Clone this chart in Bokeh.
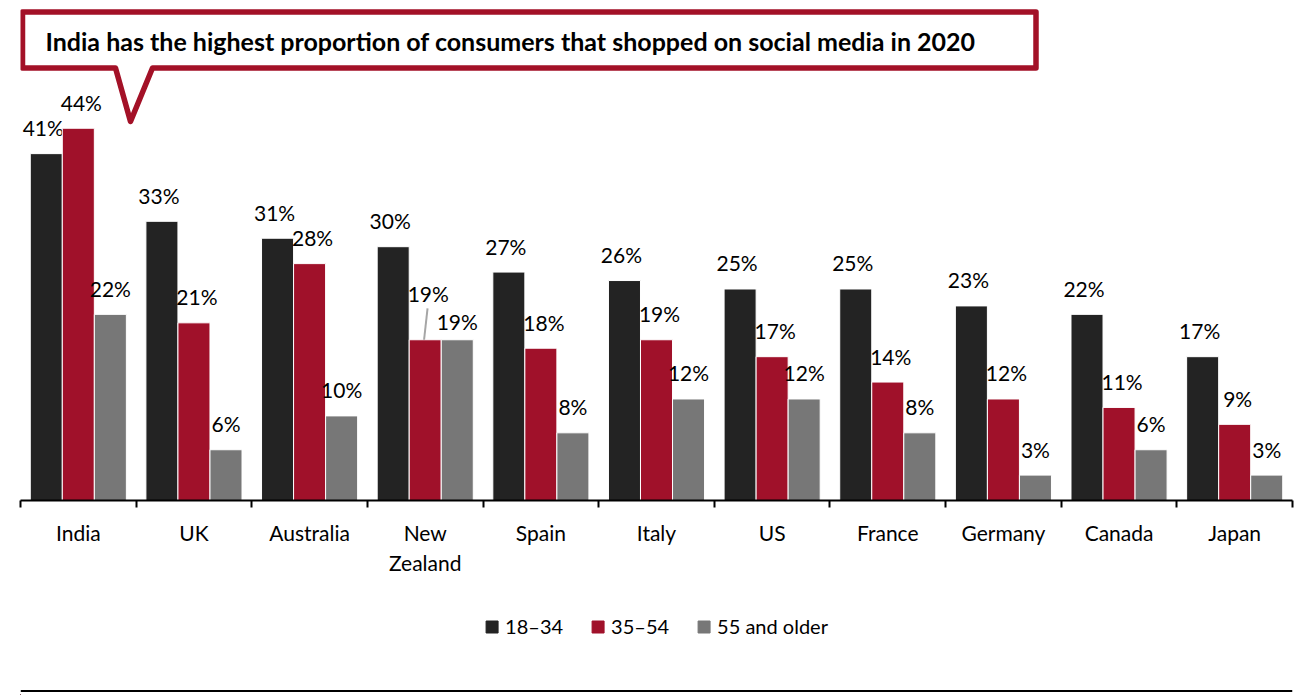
from bokeh.plotting import figure
from bokeh.models import ColumnDataSource, Range1d, FixedTicker, Legend, LegendItem, LinearAxis, Span
from bokeh.layouts import column
from bokeh.core.properties import value
from bokeh.embed import file_html
from bokeh.resources import INLINE

# ---------------- data ----------------
countries = ["India", "UK", "Australia", "New Zealand", "Spain", "Italy",
             "US", "France", "Germany", "Canada", "Japan"]
tick_labels = ["India", "UK", "Australia", "New\nZealand", "Spain", "Italy",
               "US", "France", "Germany", "Canada", "Japan"]
series_names = ["18–34", "35–54", "55 and older"]
age_18_34 = [41, 33, 31, 30, 27, 26, 25, 25, 23, 22, 17]
age_35_54 = [44, 21, 28, 19, 18, 19, 17, 14, 12, 11, 9]
age_55_plus = [22, 6, 10, 19, 8, 12, 12, 8, 3, 6, 3]
title_text = "India has the highest proportion of consumers that shopped on social media in 2020"

# ---------------- style ----------------
FONT = "Lato"
DARK = "#232323"
RED = "#A0112A"
GRAY = "#777777"
CALLOUT = "#A31127"

W = 1299
FRAME_LEFT = 20
FRAME_W = 1272
FRAME_H = 500
BELOW = 90
N = len(countries)
Y_MAX = 59.1

def px2x(px):
    return (px - FRAME_LEFT) / FRAME_W * N

def py2y(py):
    return (FRAME_H - py) / FRAME_H * Y_MAX

p = figure(width=W, height=FRAME_H + BELOW,
           x_range=Range1d(0, N), y_range=Range1d(0, Y_MAX),
           output_backend="svg", toolbar_location=None,
           y_axis_location=None, x_axis_location=None)
p.min_border_left = FRAME_LEFT
p.min_border_right = W - FRAME_LEFT - FRAME_W
p.min_border_top = 0
p.min_border_bottom = BELOW
p.outline_line_color = None
p.xgrid.visible = False
p.ygrid.visible = False
p.background_fill_color = "white"
p.border_fill_color = "white"

# x axis with boundary ticks
centers = [i + 0.5 for i in range(N)]
xaxis = LinearAxis(ticker=FixedTicker(ticks=centers, minor_ticks=list(range(N + 1))))
xaxis.major_label_overrides = {c: t for c, t in zip(centers, tick_labels)}
xaxis.major_tick_out = 0
xaxis.major_tick_in = 0
xaxis.minor_tick_out = 7
xaxis.minor_tick_in = 0
xaxis.minor_tick_line_width = 2
xaxis.minor_tick_line_color = "black"
xaxis.axis_line_width = 2
xaxis.axis_line_color = "black"
xaxis.major_label_standoff = 12
xaxis.major_label_text_font = FONT
xaxis.major_label_text_font_size = "21px"
xaxis.major_label_text_color = "black"
p.add_layout(xaxis, "below")

# bars
BAR_OFF = 0.277
BAR_W = 0.277
series = [age_18_34, age_35_54, age_55_plus]
colors = [DARK, RED, GRAY]
label_dx = [-3, 3, 0]
for k, (vals, col) in enumerate(zip(series, colors)):
    xs = [c + (k - 1) * BAR_OFF for c in centers]
    yoff = []
    for i, name in enumerate(countries):
        o = -26
        if name == "New Zealand" and k == 1:
            o = -46
        if name == "New Zealand" and k == 2:
            o = -18
        yoff.append(o)
    src = ColumnDataSource(dict(x=xs, top=vals, lab=[f"{v}%" for v in vals], yoff=yoff))
    p.vbar(x="x", top="top", bottom=0, width=BAR_W, source=src,
           fill_color=col, line_color="white", line_width=1)
    p.text(x="x", y="top", text="lab", source=src, x_offset=label_dx[k], y_offset="yoff",
           text_align="center", text_baseline="middle",
           text_font=value(FONT), text_font_size="21px", text_color="black")

# leader line for New Zealand 35–54 label
nz = countries.index("New Zealand")
p.segment(x0=[centers[nz] + 0.02], y0=[age_35_54[nz] + 3.7],
          x1=[centers[nz] - 0.01], y1=[age_35_54[nz]],
          line_color="#A6A6A6", line_width=2)

# callout box
pts = [(22, 11.5), (1035.5, 11.5), (1035.5, 67.5), (152, 67.5), (130, 121),
       (115, 67.5), (22, 67.5)]
p.patch(x=[px2x(a) for a, b in pts], y=[py2y(b) for a, b in pts],
        fill_color="white", line_color=CALLOUT, line_width=5.5, line_join="round")
p.text(x=[px2x(45)], y=[py2y(40)], text=[title_text], text_align="left",
       text_baseline="middle", text_font=value(FONT), text_font_style="bold",
       text_font_size="25px", text_color="black")

# ---------------- legend strip + bottom rule ----------------
H2 = 105
p2 = figure(width=W, height=H2, x_range=Range1d(0, 1), y_range=Range1d(0, H2),
            output_backend="svg", toolbar_location=None,
            x_axis_location=None, y_axis_location=None)
p2.min_border_left = 16
p2.min_border_right = 0
p2.min_border_top = 0
p2.min_border_bottom = 0
p2.outline_line_color = None
p2.xgrid.visible = False
p2.ygrid.visible = False
leg_renderers = []
for col in colors:
    # off-screen stand-in glyph, only used to draw the legend swatch
    r = p2.vbar(x=[-5], top=[1], width=0.1, fill_color=col, line_color=col)
    leg_renderers.append(r)
legend = Legend(items=[LegendItem(label=n, renderers=[r]) for n, r in zip(series_names, leg_renderers)],
                orientation="horizontal", location="top_center",
                glyph_width=15, glyph_height=15, label_standoff=6, spacing=27,
                label_text_font=FONT, label_text_font_size="20px", label_text_color="black",
                border_line_alpha=0, background_fill_alpha=0,
                margin=24, padding=0)
p2.add_layout(legend, "center")
p2.add_layout(Span(location=H2 - 100.5, dimension="width", line_color="black", line_width=2))

layout = column(p, p2, spacing=0)

open("out.html", "w").write(file_html(layout, INLINE))
